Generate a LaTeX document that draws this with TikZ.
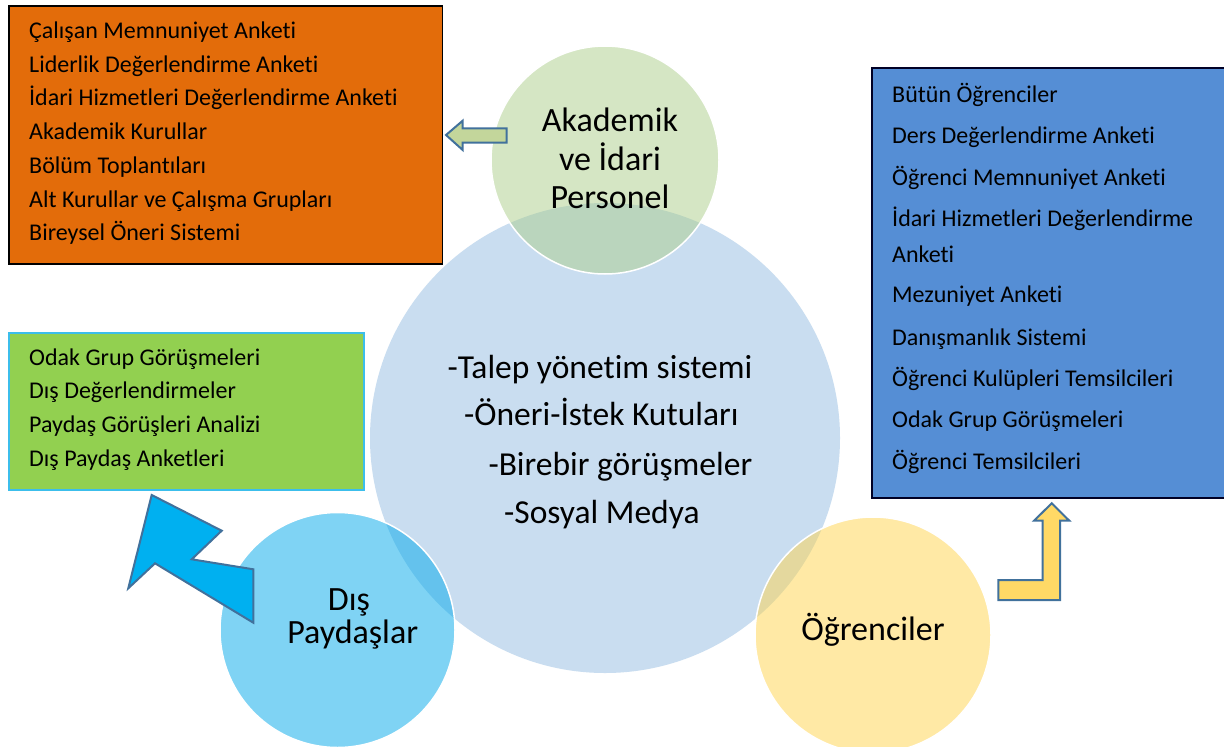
\documentclass[tikz,border=0pt]{standalone}
\usepackage{fontspec}
\setmainfont{Carlito}[Ligatures={NoCommon,NoContextual,NoRare},Contextuals=NoAlternate]
\newcommand{\tiNL}{t\kern0pt i}
\definecolor{bigblue}{RGB}{201,221,240}
\definecolor{greenc}{RGB}{173,207,139}
\definecolor{leftc}{RGB}{0,169,235}
\definecolor{rightc}{RGB}{255,213,77}
\definecolor{orangebox}{RGB}{227,108,10}
\definecolor{bluebox}{RGB}{85,142,213}
\definecolor{greenbox}{RGB}{146,208,80}
\definecolor{greenboxline}{RGB}{60,190,235}
\definecolor{arrowline}{RGB}{65,113,156}
\definecolor{arrowgreen}{RGB}{195,214,155}
\definecolor{arrowyellow}{RGB}{255,217,102}
\definecolor{arrowblue}{RGB}{0,176,240}
\begin{document}
\begin{tikzpicture}[x=1pt,y=-1pt,
  lst/.style={anchor=base west, inner sep=0pt, font=\fontsize{24}{28}\selectfont},
  ctext/.style={anchor=base west, inner sep=0pt, font=\fontsize{33.5}{38}\selectfont},
  clabel/.style={anchor=base, inner sep=0pt, font=\fontsize{34}{38}\selectfont},
  bubble/.style={circle, inner sep=0pt, draw=white, line width=1.5pt, fill opacity=0.5},
  listbox/.style={anchor=north west, inner sep=0pt},
  blockarrow/.style={draw=arrowline, line width=2pt, line join=miter}]
\useasboundingbox (0,0) rectangle (1224,747);
\fill[white] (0,0) rectangle (1224,747);

% circles
\node[circle, inner sep=0pt, fill=bigblue, minimum size=470pt] (center) at (605,438) {};
\node[bubble, fill=greenc, minimum size=228pt] (akad) at (605,160) {};
\node[bubble, fill=leftc, minimum size=235pt] (dis) at (337.5,630) {};
\node[bubble, fill=rightc, minimum size=236pt] (ogr) at (873,635) {};

% circle labels
\node[clabel] (akad1) at (610,131.7) {Akademik};
\node[clabel] (akad2) at (610,170) {ve İdari};
\node[clabel] (akad3) at (610,208.3) {Personel};
\node[clabel] (dis1) at (349,610) {Dış};
\node[clabel] (dis2) at (352.7,643.3) {Paydaşlar};
\node[clabel] (ogr1) at (873,640) {Öğrenciler};

% center text
\node[ctext] (c1) at (447.3,378.3) {-Talep yöne\tiNL m sistemi};
\node[ctext] (c2) at (464,425) {-Öneri-İstek Kutuları};
\node[ctext] (c3) at (488.3,475) {-Birebir görüşmeler};
\node[ctext] (c4) at (504,523.3) {-Sosyal Medya};

% orange box
\node[listbox, draw=black, line width=1.5pt, fill=orangebox, minimum width=433.4pt, minimum height=258.3pt] (obox) at (8.3,5) {};
\node[lst] (o1) at (29,38.5) {Çalışan Memnuniyet Anke\tiNL};
\node[lst] (o2) at (29,72.2) {Liderlik Değerlendirme Anke\tiNL};
\node[lst] (o3) at (29,105.9) {İdari Hizmetleri Değerlendirme Anke\tiNL};
\node[lst] (o4) at (29,139.6) {Akademik Kurullar};
\node[lst] (o5) at (29,173.3) {Bölüm Toplantıları};
\node[lst] (o6) at (29,207) {Alt Kurullar ve Çalışma Grupları};
\node[lst] (o7) at (29,240.7) {Bireysel Öneri Sistemi};

% blue box
\node[listbox, draw=black!85!blue, line width=2pt, fill=bluebox, minimum width=400pt, minimum height=429.4pt] (bbox) at (870.7,67.3) {};
\node[lst] (b1) at (892,102.3) {Bütün Öğrenciler};
\node[lst] (b2) at (892,143.3) {Ders Değerlendirme Anke\tiNL};
\node[lst] (b3) at (892,185) {Öğrenci Memnuniyet Anke\tiNL};
\node[lst] (b4) at (892,226.7) {İdari Hizmetleri Değerlendirme};
\node[lst] (b5) at (892,262.7) {Anke\tiNL};
\node[lst] (b6) at (892,302.7) {Mezuniyet Anke\tiNL};
\node[lst] (b7) at (892,345) {Danışmanlık Sistemi};
\node[lst] (b8) at (892,386) {Öğrenci Kulüpleri Temsilcileri};
\node[lst] (b9) at (892,427.7) {Odak Grup Görüşmeleri};
\node[lst] (b10) at (892,469.3) {Öğrenci Temsilcileri};

% green box
\node[listbox, draw=greenboxline, line width=2pt, fill=greenbox, minimum width=354.5pt, minimum height=157pt] (gbox) at (8.3,332) {};
\node[lst] (g1) at (29,365) {Odak Grup Görüşmeleri};
\node[lst] (g2) at (29,398.8) {Dış Değerlendirmeler};
\node[lst] (g3) at (29,432.6) {Paydaş Görüşleri Analizi};
\node[lst] (g4) at (29,466.4) {Dış Paydaş Anketleri};

% block arrows
\draw[blockarrow, fill=arrowgreen] (446,135) -- (462.7,120.7) -- (462.7,128.3) -- (506.7,128.3)
  -- (506.7,142.7) -- (462.7,142.7) -- (462.7,150) -- cycle;
\draw[blockarrow, fill=arrowblue] (151.7,495) -- (221.7,530.7) -- (191.7,559.3) -- (253.3,569.3)
  -- (253.3,622.7) -- (155,563.3) -- (128.3,588.3) -- cycle;
\draw[blockarrow, fill=arrowyellow] (998.3,580) -- (1042.7,580) -- (1042.7,520.7) -- (1034,520.7)
  -- (1051.7,503.3) -- (1069.3,520.7) -- (1060,520.7) -- (1060,600) -- (998.3,600) -- cycle;
\end{tikzpicture}
\end{document}
